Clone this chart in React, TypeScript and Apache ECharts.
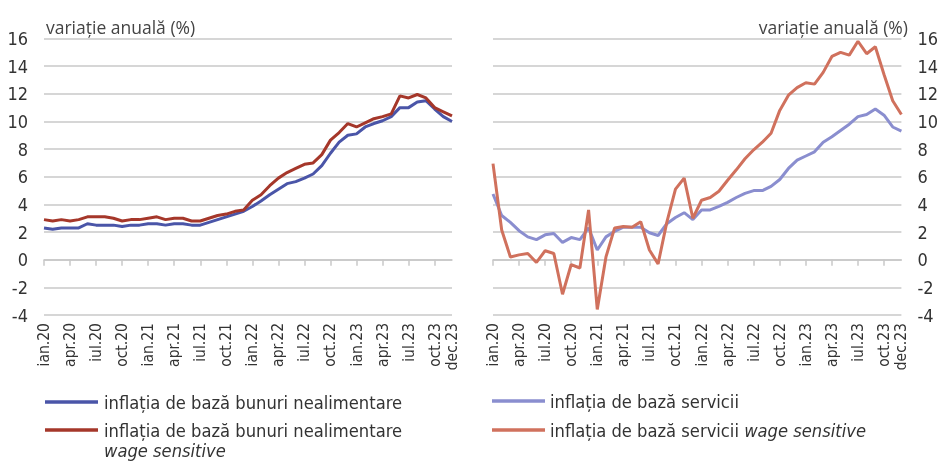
import React, { useEffect, useRef } from "react";
import * as echarts from "echarts";

const monthNames = ["ian", "feb", "mar", "apr", "mai", "iun", "iul", "aug", "sep", "oct", "noi", "dec"];
const years = ["20", "21", "22", "23"];
const categories: string[] = [];
years.forEach((y) => monthNames.forEach((m) => categories.push(m + "." + y)));

const yTicks = { min: -4, max: 16, interval: 2 };

const bunuriNealimentare = [
  2.3, 2.2, 2.3, 2.3, 2.3, 2.6, 2.5, 2.5, 2.5, 2.4, 2.5, 2.5,
  2.6, 2.6, 2.5, 2.6, 2.6, 2.5, 2.5, 2.7, 2.9, 3.1, 3.3, 3.5,
  3.85, 4.25, 4.7, 5.1, 5.5, 5.65, 5.9, 6.2, 6.8, 7.7, 8.5, 9.0,
  9.1, 9.6, 9.85, 10.05, 10.35, 11.0, 11.0, 11.4, 11.5, 10.9, 10.35, 10.0,
];
const bunuriWageSensitive = [
  2.9, 2.8, 2.9, 2.8, 2.9, 3.1, 3.1, 3.1, 3.0, 2.8, 2.9, 2.9,
  3.0, 3.1, 2.9, 3.0, 3.0, 2.8, 2.8, 3.0, 3.2, 3.3, 3.5, 3.6,
  4.3, 4.7, 5.35, 5.9, 6.3, 6.6, 6.9, 7.0, 7.6, 8.65, 9.2, 9.85,
  9.6, 9.9, 10.2, 10.35, 10.55, 11.85, 11.7, 11.95, 11.7, 11.0, 10.7, 10.4,
];
const servicii = [
  4.75, 3.2, 2.7, 2.1, 1.65, 1.45, 1.8, 1.9, 1.25, 1.6, 1.45, 2.3,
  0.7, 1.65, 2.05, 2.35, 2.35, 2.35, 1.95, 1.75, 2.6, 3.05, 3.4, 2.9,
  3.6, 3.6, 3.85, 4.15, 4.5, 4.8, 5.0, 5.0, 5.3, 5.8, 6.6, 7.2,
  7.5, 7.8, 8.5, 8.9, 9.35, 9.8, 10.35, 10.5, 10.9, 10.45, 9.6, 9.3,
];
const serviciiWageSensitive = [
  6.95, 2.15, 0.2, 0.35, 0.45, -0.2, 0.65, 0.45, -2.5, -0.35, -0.6, 3.6,
  -3.6, 0.2, 2.3, 2.4, 2.35, 2.75, 0.7, -0.3, 2.7, 5.1, 5.9, 3.0,
  4.3, 4.5, 4.95, 5.75, 6.5, 7.3, 7.95, 8.5, 9.15, 10.8, 11.9, 12.45,
  12.8, 12.7, 13.55, 14.7, 15.0, 14.8, 15.8, 14.9, 15.4, 13.4, 11.5, 10.5,
];

const titleText = "variație anuală (%)";
const legendLeft = ["inflația de bază bunuri nealimentare", "inflația de bază bunuri nealimentare", "wage sensitive"];
const legendRight = ["inflația de bază servicii", "inflația de bază servicii ", "wage sensitive"];

const COLORS = {
  blue: "#4a55a8",
  red: "#a5372a",
  purple: "#8a8ecf",
  salmon: "#d0715d",
  grid: "#c8c8c8",
  text: "#333333",
};
const FONT = "'Liberation Sans Narrow', 'DejaVu Sans Condensed', 'Roboto', sans-serif";
const TITLE_FONT = "'Open Sans', 'Noto Sans', sans-serif";

export default function App() {
  const ref = useRef<HTMLDivElement>(null);
  useEffect(() => {
    if (!ref.current) return;
    const chart = echarts.init(ref.current, null, { renderer: "svg" });
    const labelInterval = (i: number) => i % 3 === 0 || i === categories.length - 1;
    const tickInterval = (i: number) => i % 3 === 0;
    const labelAxis = (gridIndex: number) => ({
      type: "category",
      gridIndex,
      data: categories,
      boundaryGap: false,
      position: "bottom",
      axisLine: { show: false, onZero: false },
      axisTick: { show: false },
      axisLabel: { rotate: 90, interval: labelInterval, fontSize: 15.5, color: COLORS.text, fontFamily: FONT, margin: 8 },
      splitLine: { show: false },
    });
    const zeroAxis = (gridIndex: number) => ({
      type: "category",
      gridIndex,
      data: categories,
      boundaryGap: false,
      position: "bottom",
      axisLine: { show: true, onZero: true, lineStyle: { color: COLORS.grid, width: 1.5 } },
      axisTick: { show: true, interval: tickInterval, length: 6, lineStyle: { color: COLORS.grid, width: 1.5 } },
      axisLabel: { show: false },
      splitLine: { show: false },
    });
    const yAxis = (gridIndex: number, position: string, margin: number) => ({
      type: "value",
      gridIndex,
      position,
      min: yTicks.min,
      max: yTicks.max,
      interval: yTicks.interval,
      axisLine: { show: false },
      axisTick: { show: false },
      axisLabel: { fontSize: 18, color: COLORS.text, fontFamily: FONT, margin },
      splitLine: { lineStyle: { color: COLORS.grid, width: 1.5 } },
    });
    const lineSeries = (name: string, data: number[], color: string, xi: number, yi: number) => ({
      type: "line",
      name,
      data,
      xAxisIndex: xi,
      yAxisIndex: yi,
      showSymbol: false,
      symbol: "none",
      lineStyle: { color, width: 3 },
      itemStyle: { color },
    });
    const legendText = (x: number, y: number, parts: { t: string; italic?: boolean }[]) => ({
      type: "text",
      x,
      y,
      style: {
        text: parts.map((p) => `{${p.italic ? "i" : "n"}|${p.t}}`).join(""),
        rich: {
          n: { fontSize: 18.2, fontFamily: FONT, fill: COLORS.text },
          i: { fontSize: 18.2, fontFamily: FONT, fill: COLORS.text, fontStyle: "italic" },
        },
        verticalAlign: "middle",
        align: "left",
      },
    });
    const legendLine = (x1: number, x2: number, y: number, color: string) => ({
      type: "line",
      shape: { x1, y1: y, x2, y2: y },
      style: { stroke: color, lineWidth: 3.5 },
    });

    chart.setOption({
      animation: false,
      title: [
        { text: titleText, left: 41, top: 13, textStyle: { fontSize: 17.5, fontWeight: "normal", color: "#444", fontFamily: TITLE_FONT } },
        { text: titleText, right: 28, top: 13, textStyle: { fontSize: 17.5, fontWeight: "normal", color: "#444", fontFamily: TITLE_FONT } },
      ],
      grid: [
        { left: 44, top: 38.5, width: 408, height: 276.5, containLabel: false },
        { left: 493, top: 38.5, width: 419, height: 276.5, containLabel: false },
      ],
      xAxis: [labelAxis(0), zeroAxis(0), labelAxis(1), zeroAxis(1)],
      yAxis: [yAxis(0, "left", 16), yAxis(1, "right", 16)],
      series: [
        lineSeries(legendLeft[0], bunuriNealimentare, COLORS.blue, 0, 0),
        lineSeries(legendLeft[1] + " wage sensitive", bunuriWageSensitive, COLORS.red, 0, 0),
        lineSeries(legendRight[0], servicii, COLORS.purple, 2, 1),
        lineSeries(legendRight[1] + "wage sensitive", serviciiWageSensitive, COLORS.salmon, 2, 1),
      ],
      graphic: [
        legendLine(45, 98, 402, COLORS.blue),
        legendText(104, 402, [{ t: legendLeft[0] }]),
        legendLine(45, 98, 430, COLORS.red),
        legendText(104, 430, [{ t: legendLeft[1] }]),
        legendText(104, 450, [{ t: legendLeft[2], italic: true }]),
        legendLine(492, 545, 401, COLORS.purple),
        legendText(550, 401, [{ t: legendRight[0] }]),
        legendLine(492, 545, 430, COLORS.salmon),
        legendText(550, 430, [{ t: legendRight[1] }, { t: legendRight[2], italic: true }]),
      ],
    });
    return () => chart.dispose();
  }, []);
  return <div ref={ref} style={{ position: "fixed", left: 0, top: 0, width: 941, height: 461 }} />;
}
